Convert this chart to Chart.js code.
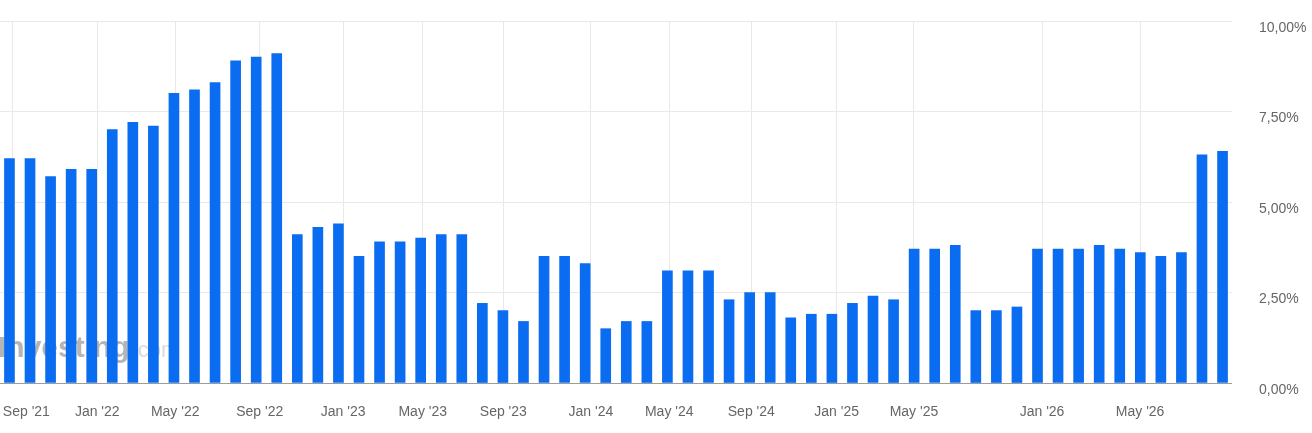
<!DOCTYPE html>
<html>
<head>
<meta charset="utf-8">
<script src="https://cdn.jsdelivr.net/npm/chart.js@4/dist/chart.umd.min.js"></script>
<style>
  html, body { margin: 0; padding: 0; background: #fff; }
  #wykres { display: block; }
</style>
</head>
<body>
<canvas id="wykres" width="1312" height="433"></canvas>
<script>
// ── dane ──────────────────────────────────────────
// wartości słupków (%), kolejne odczyty
const wartosci = [
  6.2, 6.2, 5.7, 5.9, 5.9, 7.0, 7.2, 7.1, 8.0, 8.1,
  8.3, 8.9, 9.0, 9.1, 4.1, 4.3, 4.4, 3.5, 3.9, 3.9,
  4.0, 4.1, 4.1, 2.2, 2.0, 1.7, 3.5, 3.5, 3.3, 1.5,
  1.7, 1.7, 3.1, 3.1, 3.1, 2.3, 2.5, 2.5, 1.8, 1.9,
  1.9, 2.2, 2.4, 2.3, 3.7, 3.7, 3.8, 2.0, 2.0, 2.1,
  3.7, 3.7, 3.7, 3.8, 3.7, 3.6, 3.5, 3.6, 6.3, 6.4
];
// etykiety osi X i ich położenie (w jednostkach numeru słupka)
const etykietyX = ["Sep '21", "Jan '22", "May '22", "Sep '22", "Jan '23", "May '23", "Sep '23",
                   "Jan '24", "May '24", "Sep '24", "Jan '25", "May '25", "Jan '26", "May '26"];
const pozycjeX = [0.16, 4.27, 8.06, 12.17, 16.23, 20.10, 24.02, 28.28, 32.09, 36.08, 40.23, 43.99, 50.22, 54.99];
const tickiY = [0, 2.5, 5, 7.5, 10];

const punkty = wartosci.map((v, i) => ({ x: i, y: v }));

// znak wodny pod słupkami
const znakWodny = {
  id: 'znakWodny',
  beforeDatasetsDraw(chart) {
    const ctx = chart.ctx;
    ctx.save();
    ctx.fillStyle = 'rgba(120,120,120,0.55)';
    ctx.textBaseline = 'alphabetic';
    ctx.font = 'bold 30px "Liberation Sans", Arial, sans-serif';
    ctx.fillText('Investing', -2, 357);
    const w = ctx.measureText('Investing').width;
    ctx.font = '22px "Liberation Sans", Arial, sans-serif';
    ctx.fillStyle = 'rgba(150,150,150,0.35)';
    ctx.fillText('.com', -2 + w + 2, 357);
    ctx.restore();
  }
};

new Chart(document.getElementById('wykres'), {
  type: 'bar',
  data: {
    datasets: [{
      data: punkty,
      backgroundColor: '#0a6cf0',
      barThickness: 10,
      borderWidth: 0
    }]
  },
  options: {
    responsive: false,
    animation: false,
    layout: { padding: { top: 21, right: 0, bottom: 0, left: 0 } },
    plugins: { legend: { display: false }, tooltip: { enabled: false } },
    scales: {
      x: {
        type: 'linear',
        min: -0.46,
        max: 59.46,
        offset: false,
        afterBuildTicks(scale) {
          scale.ticks = pozycjeX.map(v => ({ value: v }));
        },
        afterFit(scale) {
          scale.height = 50;
          scale.paddingLeft = 0;
          scale.paddingRight = 0;
        },
        grid: { offset: false, color: '#e9e9e9', lineWidth: 1, drawTicks: false },
        border: { display: false },
        ticks: {
          autoSkip: false,
          maxRotation: 0,
          padding: 21,
          color: '#666',
          font: { family: '"Liberation Sans", Arial, sans-serif', size: 14 },
          callback(value, index) {
            const t = etykietyX[index];
            // pierwsza etykieta przesunięta, żeby mieściła się w kadrze
            return index === 0 ? '\u00a0'.repeat(7) + t : t;
          }
        }
      },
      y: {
        position: 'right',
        min: 0,
        max: 10,
        afterBuildTicks(scale) {
          scale.ticks = tickiY.map(v => ({ value: v }));
        },
        afterFit(scale) {
          scale.width = 80;
          scale.paddingTop = 0;
          scale.paddingBottom = 0;
        },
        grid: {
          drawTicks: false,
          lineWidth: 1,
          color: c => c.tick && c.tick.value === 0 ? '#9c9c9c' : '#e9e9e9'
        },
        border: { display: false },
        ticks: {
          padding: 27,
          align: 'start',
          color: '#666',
          font: { family: '"Liberation Sans", Arial, sans-serif', size: 14 },
          callback: v => v.toFixed(2).replace('.', ',') + '%'
        }
      }
    }
  },
  plugins: [znakWodny]
});
</script>
</body>
</html>
